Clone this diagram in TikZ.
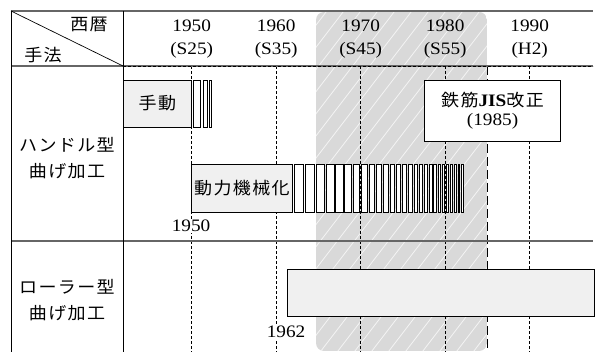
\documentclass[tikz,border=0pt]{standalone}
\usepackage{fontspec}
\setmainfont{Liberation Serif}[FakeStretch=1.1]
\newfontfamily\cjk{Noto Sans CJK JP}[FakeStretch=1.06, LetterSpace=8]
\begin{document}
\begin{tikzpicture}[x=1pt,y=-1pt,
  yr/.style={font=\fontsize{17.5}{20}\selectfont, inner sep=0pt},
  jp/.style={font=\cjk\fontsize{17}{26}\selectfont, inner sep=0pt, align=center},
  grid/.style={draw=black, line width=0.7pt, dash pattern=on 3pt off 2pt},
  tline/.style={draw=black!60, line width=1.2pt},
  box/.style={draw=black, line width=0.7pt, fill=black!6},
  bar/.style={draw=black, line width=0.6pt, fill=white}]
\useasboundingbox (0,0) rectangle (596,352);
% shaded period
\begin{scope}
  \clip[rounded corners=8pt] (316,12) rectangle (487,351);
  \fill[black!15] (316,12) rectangle (487,351);
  \foreach \s in {-400,-383,...,520}
    \draw[white, line width=0.8pt, opacity=0.7] (\s,360) -- ++(330,-430);
\end{scope}
% grid lines
\foreach \gx/\nm in {191.7/ga,276.2/gb,360.7/gc,445.2/gd,529.7/ge}{
  \coordinate (\nm t) at (\gx,66);
  \coordinate (\nm b) at (\gx,352);
  \draw[grid] (\nm t) -- (\nm b);
}
\coordinate (jt) at (487.5,66);
\coordinate (jb) at (487.5,352);
\draw[draw=black, line width=1.1pt, dash pattern=on 9pt off 4pt] (jt) -- (jb);
% table lines
\coordinate (tl) at (11,11);
\coordinate (tr) at (593,11);
\coordinate (ctop) at (123,11);
\coordinate (cbot) at (123,352);
\coordinate (lb) at (11,352);
\coordinate (hl) at (11,66);
\coordinate (hm) at (123,66);
\coordinate (hr) at (593,66);
\coordinate (rl) at (11,241);
\coordinate (rr) at (593,241);
\draw[tline] (tl) -- (tr);
\draw[tline] (hl) -- (hr);
\draw[black, line width=0.8pt, dash pattern=on 3pt off 2pt] (hm) -- (hr);
\draw[tline] (rl) -- (rr);
\draw[black, line width=0.9pt] (tl) -- (lb);
\draw[black, line width=0.9pt] (ctop) -- (cbot);
\draw[black, line width=0.7pt] (tl) -- (hm);
% header texts
\node[jp] (seireki) at (89,24) {西暦};
\node[jp] (shuho) at (43,55) {手法};
\foreach \gx/\y/\s/\nm in {191.7/1950/S25/ya,276.2/1960/S35/yb,360.7/1970/S45/yc,445.2/1980/S55/yd,529.7/1990/H2/ye}{
  \node[yr] (\nm1) at (\gx,26) {\y};
  \node[yr] (\nm2) at (\gx,50) {(\s)};
}
% row labels
\node[jp] (row1) at (67,158) {ハンドル型\\曲げ加工};
\node[jp] (row2) at (67,300) {ローラー型\\曲げ加工};
% hand bending boxes
\node[box, minimum width=68.7pt, minimum height=47pt, inner sep=0pt, font=\cjk\fontsize{17}{20}\selectfont] (shudo) at (157.35,103.5) {手動};
\draw[bar] (193.3,80) rectangle (200.3,127);
\draw[bar] (203.3,80) rectangle (207.3,127);
\draw[bar] (209.7,80) rectangle (211.7,127);
\node[box, minimum width=100.5pt, minimum height=48.7pt, inner sep=0pt, font=\cjk\fontsize{17}{20}\selectfont] (doryoku) at (242,188.35) {動力機械化};
\foreach \i in {0,...,26}{
  \pgfmathsetmacro{\xl}{294+1.8*\i+9.5*(1-pow(0.935,\i))/0.065}
  \pgfmathsetmacro{\wd}{9.5*pow(0.935,\i)}
  \draw[bar] (\xl,164) rectangle ++(\wd,48.7);
}
\node[yr, fill=white, inner sep=1pt] (y1950) at (191,226) {1950};
% JIS box
\node[draw=black, line width=0.8pt, fill=white, minimum width=136.4pt, minimum height=61.7pt, inner sep=0pt, align=center] (jis) at (492.5,110.85)
  {{\cjk\fontsize{17}{21}\selectfont 鉄筋}{\fontsize{17.5}{21}\selectfont\bfseries JIS}{\cjk\fontsize{17}{21}\selectfont 改正}\\[5pt]{\fontsize{17.5}{21}\selectfont (1985)}};
% roller box
\node[box, minimum width=307pt, minimum height=47.7pt, inner sep=0pt] (roller) at (440.8,292.85) {};
\node[yr, fill=white, inner sep=1pt] (y1962) at (286,332) {1962};
\end{tikzpicture}
\end{document}
